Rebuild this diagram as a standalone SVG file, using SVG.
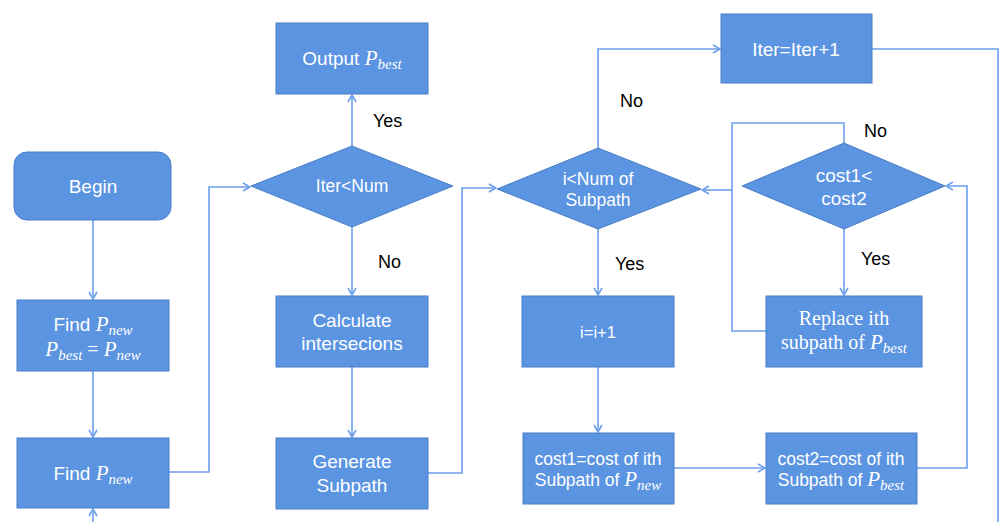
<svg xmlns="http://www.w3.org/2000/svg" width="999" height="522" viewBox="0 0 999 522">
<defs>
<marker id="ah" viewBox="0 0 10 10" refX="9" refY="5" markerWidth="10" markerHeight="10" markerUnits="userSpaceOnUse" orient="auto">
<path d="M2,1 L9,5 L2,9" fill="none" stroke="#6c9fec" stroke-width="1.6"/>
</marker>
<style>
.n{fill:#5b94e1;stroke:#4a7ec7;stroke-width:1}
.t{fill:#fff;font-family:"Liberation Sans",Arial,sans-serif;font-size:19px;text-anchor:middle}
.s{font-size:17.5px}
.m{font-family:"Liberation Serif","Times New Roman",serif;font-style:italic;font-size:21px}
.sb{font-family:"Liberation Serif","Times New Roman",serif;font-style:italic;font-size:15px}
.sf{font-family:"Liberation Serif","Times New Roman",serif;font-size:20px}
.l{fill:#000;font-family:"Liberation Sans",Arial,sans-serif;font-size:18px}
.c{fill:none;stroke:#6c9fec;stroke-width:1.6}
.a{marker-end:url(#ah)}
</style>
</defs>
<g id="connectors">
<path class="c a" d="M93,220 V299"/>
<path class="c a" d="M93,371 V437"/>
<path class="c a" d="M93,522 V509"/>
<path class="c a" d="M169,472 H209 V187 H250"/>
<path class="c a" d="M352,146 V95"/>
<path class="c a" d="M352,227 V295"/>
<path class="c a" d="M352,367 V437"/>
<path class="c a" d="M428,473 H462 V188 H496"/>
<path class="c a" d="M598,148 V49 H720"/>
<path class="c" d="M872,49 H998 V522"/>
<path class="c a" d="M598,229 V295"/>
<path class="c a" d="M598,367 V432"/>
<path class="c a" d="M674,468 H765"/>
<path class="c a" d="M917,468 H967 V186 H946"/>
<path class="c" d="M844,143 V123 H732 V331 H766"/>
<path class="c a" d="M732,190 H702"/>
<path class="c a" d="M844,229 V295"/>
</g>
<g id="labels">
<text class="l" x="373" y="127">Yes</text>
<text class="l" x="378" y="268">No</text>
<text class="l" x="620" y="107">No</text>
<text class="l" x="615" y="270">Yes</text>
<text class="l" x="864" y="137">No</text>
<text class="l" x="861" y="265">Yes</text>
</g>
<g id="begin">
<rect class="n" x="14" y="152" width="157" height="68" rx="13"/>
<text class="t" x="93" y="193">Begin</text>
</g>
<g id="find1">
<rect class="n" x="17" y="300" width="152" height="71"/>
<text class="t" x="93" y="331">Find <tspan class="m">P</tspan><tspan class="sb" dy="4">new</tspan></text>
<text class="t" x="93" y="356"><tspan class="m">P</tspan><tspan class="sb" dy="4">best</tspan><tspan class="sf" dy="-4"> = </tspan><tspan class="m">P</tspan><tspan class="sb" dy="4">new</tspan></text>
</g>
<g id="find2">
<rect class="n" x="17" y="438" width="152" height="70"/>
<text class="t" x="93" y="480">Find <tspan class="m">P</tspan><tspan class="sb" dy="4">new</tspan></text>
</g>
<g id="output">
<rect class="n" x="276" y="23" width="152" height="71"/>
<text class="t" x="352" y="65">Output <tspan class="m">P</tspan><tspan class="sb" dy="4">best</tspan></text>
</g>
<g id="iterlt">
<polygon class="n" points="251,186 352,146 453,186 352,227"/>
<text class="t s" x="352" y="192">Iter&lt;Num</text>
</g>
<g id="calc">
<rect class="n" x="276" y="296" width="152" height="71"/>
<text class="t" x="352" y="327">Calculate</text>
<text class="t" x="352" y="350">intersecions</text>
</g>
<g id="gen">
<rect class="n" x="276" y="438" width="152" height="71"/>
<text class="t" x="352" y="468">Generate</text>
<text class="t" x="352" y="492">Subpath</text>
</g>
<g id="ilt">
<polygon class="n" points="497,189 598,148 701,189 598,229"/>
<text class="t s" x="598" y="185">i&lt;Num of</text>
<text class="t s" x="598" y="206">Subpath</text>
</g>
<g id="iterinc">
<rect class="n" x="721" y="14" width="151" height="69"/>
<text class="t" x="796" y="56">Iter=Iter+1</text>
</g>
<g id="iinc">
<rect class="n" x="522" y="296" width="152" height="71"/>
<text class="t" x="598" y="338" style="font-size:16.5px">i=i+1</text>
</g>
<g id="cost1">
<rect class="n" x="523" y="433" width="151" height="71"/>
<text class="t s" x="598" y="465">cost1=cost of ith</text>
<text class="t s" x="598" y="486">Subpath of <tspan class="m">P</tspan><tspan class="sb" dy="4">new</tspan></text>
</g>
<g id="costcmp">
<polygon class="n" points="742,186 844,143 945,186 844,229"/>
<text class="t" x="844" y="182">cost1&lt;</text>
<text class="t" x="844" y="205">cost2</text>
</g>
<g id="replace">
<rect class="n" x="766" y="296" width="156" height="71"/>
<text class="t sf" x="844" y="325">Replace ith</text>
<text class="t" x="844" y="349"><tspan class="sf">subpath of </tspan><tspan class="m">P</tspan><tspan class="sb" dy="4">best</tspan></text>
</g>
<g id="cost2">
<rect class="n" x="766" y="433" width="151" height="71"/>
<text class="t s" x="841" y="465">cost2=cost of ith</text>
<text class="t s" x="841" y="486">Subpath of <tspan class="m">P</tspan><tspan class="sb" dy="4">best</tspan></text>
</g>
</svg>
